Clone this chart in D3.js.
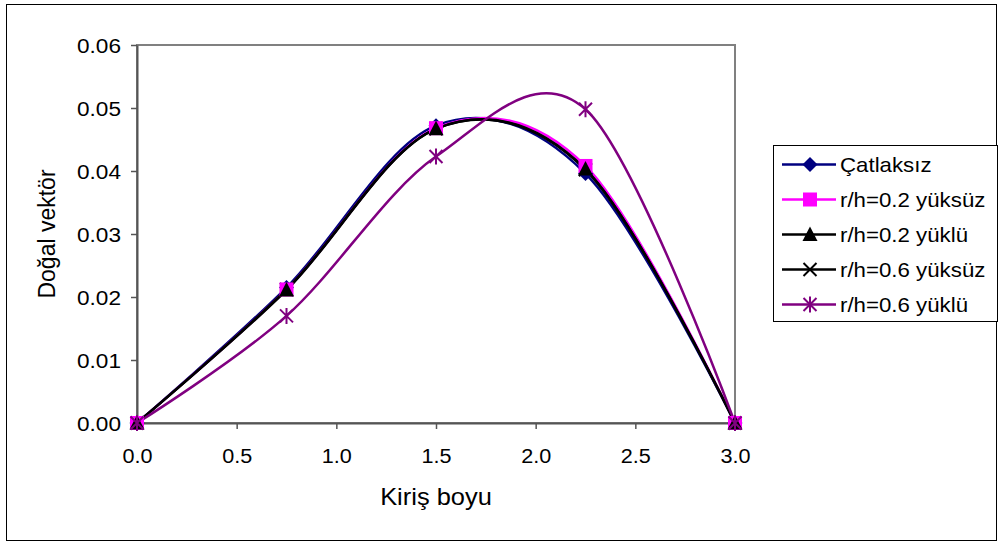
<!DOCTYPE html>
<html>
<head>
<meta charset="utf-8">
<script src="https://cdn.jsdelivr.net/npm/d3@7"></script>
<style>
  body { margin: 0; background: #fff; }
  text { font-family: "Liberation Sans", Arial, sans-serif; }
</style>
</head>
<body>
<div id="chart"></div>
<script>
// chart data
var xValues = [0, 0.75, 1.5, 2.25, 3.0];
var seriesNames = ["Çatlaksız", "r/h=0.2 yüksüz", "r/h=0.2 yüklü", "r/h=0.6 yüksüz", "r/h=0.6 yüklü"];
var catlaksiz = [0, 0.0215, 0.0472, 0.0396, 0];
var r02yuksuz = [0, 0.0212, 0.0468, 0.0408, 0];
var r02yuklu = [0, 0.0211, 0.0467, 0.0403, 0];
var r06yuksuz = [0, 0.0212, 0.0467, 0.0402, 0];
var r06yuklu = [0, 0.0170, 0.0423, 0.0498, 0];
var xTicks = [0, 0.5, 1.0, 1.5, 2.0, 2.5, 3.0];
var yTicks = [0, 0.01, 0.02, 0.03, 0.04, 0.05, 0.06];

var seriesValues = [catlaksiz, r02yuksuz, r02yuklu, r06yuksuz, r06yuklu];
var colors = ["#000080", "#ff00ff", "#000000", "#000000", "#800080"];
var markers = ["diamond", "square", "triangle", "cross", "star"];
// markers are stacked in this order (the crosses end up hidden under the squares)
var markerOrder = [3, 0, 1, 2, 4];

var W = 1000, H = 546;
var margin = { top: 45, right: 265, bottom: 123, left: 137 };
var width = W - margin.left - margin.right,
    height = H - margin.top - margin.bottom;

// the original text is a bit wider than Arial at the same height
function stretch(sel, factor) {
    sel.each(function() {
        var w = this.getComputedTextLength();
        d3.select(this)
            .attr("textLength", w * factor)
            .attr("lengthAdjust", "spacingAndGlyphs");
    });
}

var svg = d3.select("#chart").append("svg")
    .attr("width", W)
    .attr("height", H);

// outer chart border
svg.append("rect")
    .attr("x", 6.5).attr("y", 4.5)
    .attr("width", 990).attr("height", 536)
    .attr("fill", "#fff")
    .attr("stroke", "#000")
    .attr("stroke-width", 1);

var g = svg.append("g")
    .attr("transform", "translate(" + margin.left + "," + margin.top + ")");

var x = d3.scaleLinear().domain([0, 3]).range([0, width]);
var y = d3.scaleLinear().domain([0, 0.06]).range([height, 0]);

// plot frame
g.append("rect")
    .attr("width", width).attr("height", height)
    .attr("fill", "#fff")
    .attr("stroke", "#808080")
    .attr("stroke-width", 2);

var xAxis = d3.axisBottom(x).tickValues(xTicks).tickFormat(d3.format(".1f"))
    .tickSizeInner(6).tickSizeOuter(0).tickPadding(20);
var yAxis = d3.axisLeft(y).tickValues(yTicks).tickFormat(d3.format(".2f"))
    .tickSizeInner(6).tickSizeOuter(0).tickPadding(10);

var gx = g.append("g")
    .attr("transform", "translate(0," + height + ")")
    .call(xAxis);
var gy = g.append("g").call(yAxis);

[gx, gy].forEach(function(a) {
    a.select(".domain").attr("stroke", "#555").attr("stroke-width", 2);
    a.selectAll(".tick line").attr("stroke", "#555").attr("stroke-width", 1.5);
    a.selectAll(".tick text")
        .attr("fill", "#000")
        .style("font-size", "20px")
        .style("font-family", "'Liberation Sans', Arial, sans-serif");
});
gy.selectAll(".tick text").attr("dy", "0.36em");
stretch(gx.selectAll(".tick text"), 1.08);
stretch(gy.selectAll(".tick text"), 1.13);

// axis titles
g.append("text")
    .attr("text-anchor", "middle")
    .attr("transform", "translate(" + (width / 2) + "," + (height + 82) + ")")
    .style("font-size", "24px")
    .text("Kiriş boyu")
    .call(stretch, 1.06);

g.append("text")
    .attr("text-anchor", "middle")
    .attr("transform", "translate(-82," + (height / 2) + ")rotate(-90)")
    .style("font-size", "23px")
    .text("Doğal vektör");

// smoothed lines like the spreadsheet
var line = d3.line()
    .x(function(d) { return x(d[0]); })
    .y(function(d) { return y(d[1]); })
    .curve(d3.curveCardinal.tension(0));

function drawMarker(sel, type, color) {
    if (type === "diamond") {
        sel.append("path").attr("d", "M0,-7.5L7.5,0L0,7.5L-7.5,0Z").attr("fill", color);
    } else if (type === "square") {
        sel.append("rect").attr("x", -7).attr("y", -7).attr("width", 14).attr("height", 14).attr("fill", color);
    } else if (type === "triangle") {
        sel.append("path").attr("d", "M0,-8L7.5,6.5L-7.5,6.5Z").attr("fill", color);
    } else if (type === "cross") {
        sel.append("path").attr("d", "M-6.5,-6.5L6.5,6.5M-6.5,6.5L6.5,-6.5").attr("stroke", color).attr("stroke-width", 2).attr("fill", "none");
    } else if (type === "star") {
        sel.append("path").attr("d", "M-6.5,-6.5L6.5,6.5M-6.5,6.5L6.5,-6.5M0,-8L0,8").attr("stroke", color).attr("stroke-width", 2).attr("fill", "none");
    }
}

seriesValues.forEach(function(vals, i) {
    var pts = xValues.map(function(xv, j) { return [xv, vals[j]]; });
    g.append("path")
        .datum(pts)
        .attr("fill", "none")
        .attr("stroke", colors[i])
        .attr("stroke-width", 2.5)
        .attr("d", line);
});

markerOrder.forEach(function(i) {
    var vals = seriesValues[i];
    var pts = xValues.map(function(xv, j) { return [xv, vals[j]]; });
    g.selectAll(".m" + i)
        .data(pts)
        .enter().append("g")
        .attr("class", "m" + i)
        .attr("transform", function(d) { return "translate(" + x(d[0]) + "," + y(d[1]) + ")"; })
        .each(function() { drawMarker(d3.select(this), markers[i], colors[i]); });
});

// legend
var legend = svg.append("g").attr("transform", "translate(773,145)");
legend.append("rect")
    .attr("x", 0.5).attr("y", 0.5)
    .attr("width", 224).attr("height", 176)
    .attr("fill", "#fff")
    .attr("stroke", "#000")
    .attr("stroke-width", 1);

seriesNames.forEach(function(name, i) {
    var row = legend.append("g").attr("transform", "translate(0," + (19.5 + i * 35) + ")");
    row.append("line")
        .attr("x1", 9).attr("x2", 63)
        .attr("stroke", colors[i]).attr("stroke-width", 2.5);
    var m = row.append("g").attr("transform", "translate(37,0)");
    drawMarker(m, markers[i], colors[i]);
    row.append("text")
        .attr("x", 67).attr("dy", "0.36em")
        .style("font-size", "21px")
        .text(name)
        .call(stretch, 1.06);
});
</script>
</body>
</html>
